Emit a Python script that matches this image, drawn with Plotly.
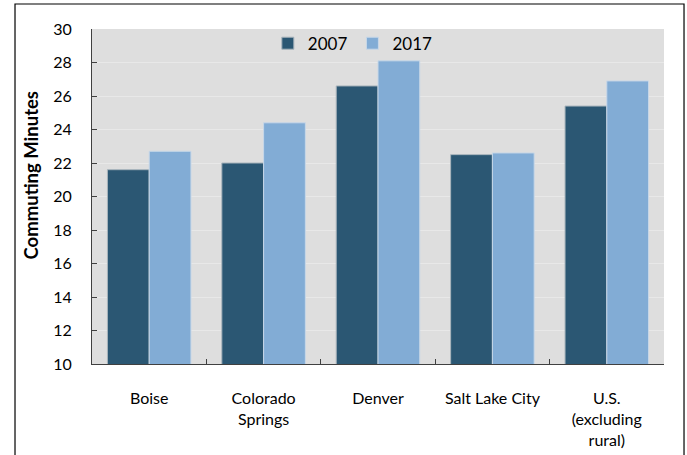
import plotly.graph_objects as go

categories = ["Boise", "Colorado<br>Springs", "Denver", "Salt Lake City", "U.S.<br>(excluding<br>rural)"]
series_names = ["2007", "2017"]
values_2007 = [21.6, 22.0, 26.6, 22.5, 25.4]
values_2017 = [22.7, 24.4, 28.1, 22.6, 26.9]
y_ticks = [10, 12, 14, 16, 18, 20, 22, 24, 26, 28, 30]

FONT = "Lato, Liberation Sans, sans-serif"

fig = go.Figure()
fig.add_trace(go.Bar(x=categories, y=values_2007, name=series_names[0],
                     marker=dict(color="#2b5773", line=dict(color="#a8b4bc", width=1))))
fig.add_trace(go.Bar(x=categories, y=values_2017, name=series_names[1],
                     marker=dict(color="#82acd5", line=dict(color="#c8d8e8", width=1))))

fig.update_layout(
    width=687, height=455,
    margin=dict(l=92, r=23, t=29, b=91, autoexpand=False),
    paper_bgcolor="white",
    plot_bgcolor="#dedede",
    font=dict(family=FONT, size=16, color="black"),
    barmode="group",
    bargap=0.27,
    bargroupgap=0.0,
    showlegend=True,
    legend=dict(orientation="h", x=0.456, xanchor="center", y=1.01, yanchor="top",
                bgcolor="rgba(0,0,0,0)", font=dict(size=17),
                itemwidth=30, tracegroupgap=0),
    xaxis=dict(
        automargin=False,
        showline=True, linecolor="#404040", linewidth=1,
        ticks="inside", tickson="boundaries", ticklen=5, tickcolor="#404040",
        tickfont=dict(size=16), ticklabelstandoff=20,
        showgrid=False,
    ),
    yaxis=dict(
        automargin=False,
        range=[10, 30], tickvals=y_ticks,
        showline=True, linecolor="#404040", linewidth=1,
        ticks="inside", ticklen=5, tickcolor="#404040",
        showgrid=True, gridcolor="#e8e8e8", gridwidth=1,
        zeroline=False,
        tickfont=dict(size=16), ticklabelstandoff=16,
    ),
    annotations=[
        dict(text="<b>Commuting Minutes</b>", xref="paper", yref="paper",
             x=-0.106, y=0.564, xanchor="center", yanchor="middle",
             textangle=-90, showarrow=False, font=dict(size=18.5)),
    ],
    shapes=[
        dict(type="rect", xref="paper", yref="paper",
             x0=-0.1346, x1=1.035, y0=-0.3, y1=1.0746,
             line=dict(color="black", width=1.2), fillcolor="rgba(0,0,0,0)", layer="below"),
    ],
)

fig.write_html("out.html", config={"displayModeBar": False},
               post_script="document.body.style.margin='0';")
